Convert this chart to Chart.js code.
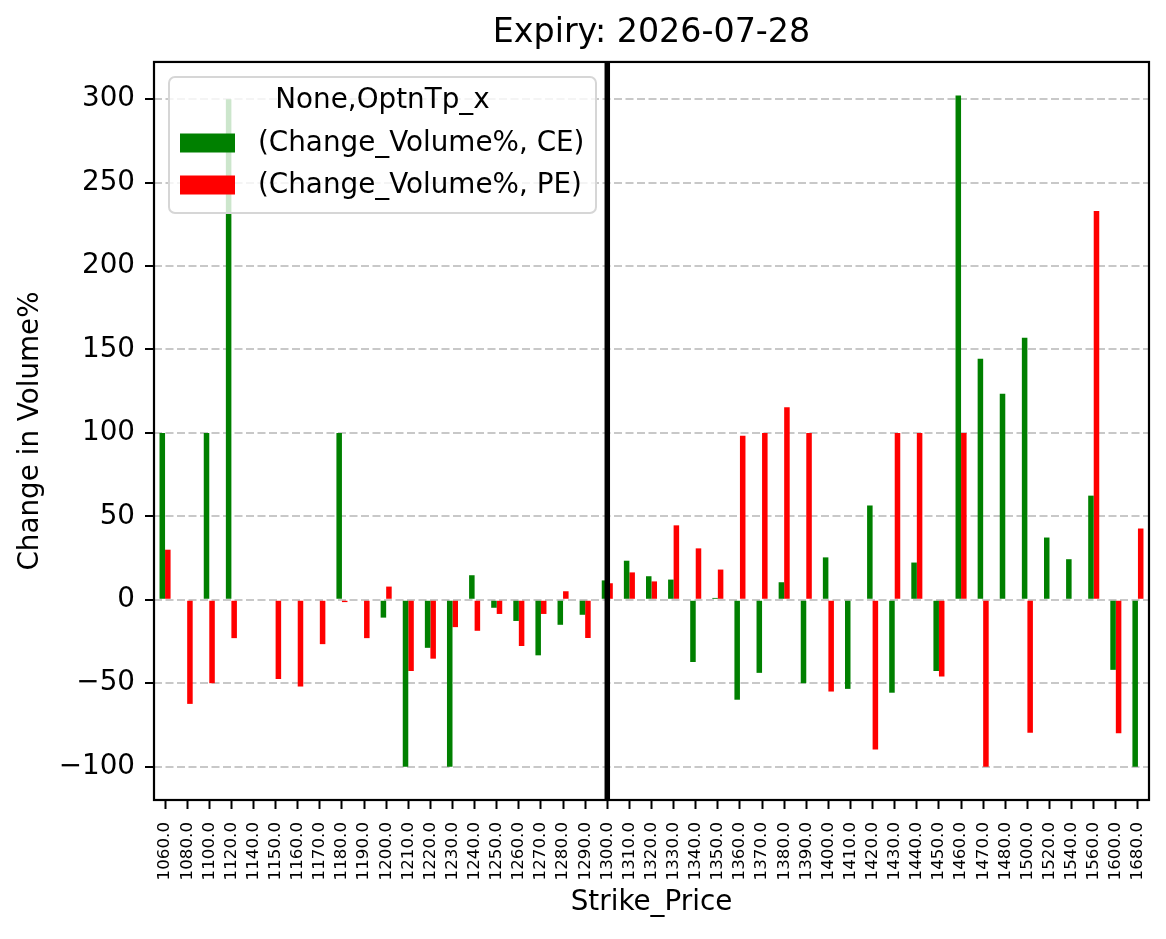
<!DOCTYPE html>
<html>
<head>
<meta charset="utf-8">
<script src="https://cdn.jsdelivr.net/npm/chart.js@4.4.1/dist/chart.umd.min.js"></script>
<style>
  html, body { margin: 0; padding: 0; background: #fff; }
  #wrap { width: 1166px; height: 939px; }
</style>
</head>
<body>
<div id="wrap"><canvas id="volChart" width="1166" height="939"></canvas></div>
<script>
const strikes = ['1060.0','1080.0','1100.0','1120.0','1140.0','1150.0','1160.0','1170.0','1180.0','1190.0',
                 '1200.0','1210.0','1220.0','1230.0','1240.0','1250.0','1260.0','1270.0','1280.0','1290.0',
                 '1300.0','1310.0','1320.0','1330.0','1340.0','1350.0','1360.0','1370.0','1380.0','1390.0',
                 '1400.0','1410.0','1420.0','1430.0','1440.0','1450.0','1460.0','1470.0','1480.0','1500.0',
                 '1520.0','1540.0','1560.0','1600.0','1680.0'];

const ceChange = [100, null, 100, 300, null, null, null, null, 100, null,
                  -10.7, -100, -28.8, -100, 14.7, -4.8, -12.7, -33.3, -15, -9,
                  11.6, 23.4, 14.1, 12.1, -37.3, 1.1, -59.9, -43.8, 10.5, -50,
                  25.4, -53.4, 56.5, -55.7, 22.3, -42.7, 302.2, 144.4, 123.5, 157,
                  37.3, 24.3, 62.4, -42, -100];

const peChange = [30, -62.4, -50, -23, null, -47.5, -52, -26.6, -1.4, -23,
                  7.9, -42.7, -35.3, -16.4, -18.6, -8.5, -27.7, -8.5, 5.1, -22.9,
                  9.9, 16.4, 11, 44.6, 30.8, 18.1, 98.3, 100, 115.3, 100,
                  -55, null, -89.8, 100, 100, -46, 100, -100, null, -79.7,
                  null, null, 233, -80, 42.7];

const yTicks = [-100, -50, 0, 50, 100, 150, 200, 250, 300];
const seriesLabels = ['(Change_Volume%, CE)', '(Change_Volume%, PE)'];
const legendTitle = 'None,OptnTp_x';
const spotStrike = '1300.0';

const FONT = 'DejaVu Sans';

// vertical spot line, axes frame and matplotlib style legend
const overlay = {
    id: 'overlay',
    afterDraw(chart) {
        const ctx = chart.ctx;
        const a = chart.chartArea;
        const xs = chart.scales.x;

        // spot line
        const sx = xs.getPixelForValue(strikes.indexOf(spotStrike));
        ctx.save();
        ctx.strokeStyle = '#000';
        ctx.lineWidth = 5.5;
        ctx.beginPath();
        ctx.moveTo(sx, a.top);
        ctx.lineTo(sx, a.bottom);
        ctx.stroke();

        // frame
        ctx.lineWidth = 2.2;
        ctx.strokeRect(a.left, a.top, a.right - a.left, a.bottom - a.top);

        // legend
        const lx = 169, ly = 77, lw = 427, lh = 136, r = 6;
        ctx.beginPath();
        ctx.moveTo(lx + r, ly);
        ctx.arcTo(lx + lw, ly, lx + lw, ly + lh, r);
        ctx.arcTo(lx + lw, ly + lh, lx, ly + lh, r);
        ctx.arcTo(lx, ly + lh, lx, ly, r);
        ctx.arcTo(lx, ly, lx + lw, ly, r);
        ctx.closePath();
        ctx.fillStyle = 'rgba(255,255,255,0.8)';
        ctx.fill();
        ctx.strokeStyle = '#d6d6d6';
        ctx.lineWidth = 2;
        ctx.stroke();

        ctx.font = '27.8px "' + FONT + '"';
        ctx.fillStyle = '#000';
        ctx.textBaseline = 'middle';
        ctx.textAlign = 'center';
        ctx.fillText(legendTitle, 382.5, 101);

        ctx.textAlign = 'left';
        chart.data.datasets.forEach((ds, i) => {
            const cy = 143 + i * 42;
            ctx.fillStyle = ds.backgroundColor;
            ctx.fillRect(180, cy - 9.5, 55, 19);
            ctx.fillStyle = '#000';
            ctx.fillText(ds.label, 258, cy + 1);
        });
        ctx.restore();
    }
};

const ctx = document.getElementById('volChart').getContext('2d');
const volChart = new Chart(ctx, {
    type: 'bar',
    data: {
        labels: strikes,
        datasets: [
            {
                label: seriesLabels[0],
                data: ceChange,
                backgroundColor: '#008000',
                categoryPercentage: 0.5,
                barPercentage: 1.0,
            },
            {
                label: seriesLabels[1],
                data: peChange,
                backgroundColor: '#ff0000',
                categoryPercentage: 0.5,
                barPercentage: 1.0,
            }
        ]
    },
    options: {
        responsive: false,
        devicePixelRatio: 1,
        animation: false,
        events: [],
        layout: {
            padding: { left: 0, right: 17, top: 0, bottom: 0 }
        },
        plugins: {
            legend: { display: false },
            tooltip: { enabled: false },
            title: {
                display: true,
                fullSize: false,
                text: 'Expiry: 2026-07-28',
                color: '#000',
                font: { family: FONT, size: 33.3, weight: 'normal', lineHeight: 1.2 },
                padding: { top: 13, bottom: 9 }
            }
        },
        scales: {
            x: {
                offset: true,
                grid: {
                    display: true,
                    offset: false,
                    drawOnChartArea: false,
                    drawTicks: true,
                    tickLength: 9,
                    tickColor: '#000',
                    tickWidth: 2
                },
                border: { display: false },
                ticks: {
                    autoSkip: false,
                    minRotation: 90,
                    maxRotation: 90,
                    padding: 13,
                    color: '#000',
                    font: { family: FONT, size: 16.7 }
                },
                title: {
                    display: true,
                    text: 'Strike_Price',
                    color: '#000',
                    font: { family: FONT, size: 27.8, lineHeight: 1.2 },
                    padding: { top: 0, bottom: 20 }
                },
                afterFit(scale) {
                    scale.height = 139;
                    scale.paddingLeft = 0;
                    scale.paddingRight = 0;
                }
            },
            y: {
                z: 1,
                min: -120,
                max: 322.3,
                grid: {
                    color: 'rgba(176,176,176,0.7)',
                    lineWidth: 2,
                    drawTicks: true,
                    tickLength: 9,
                    tickColor: '#000',
                    tickWidth: 2,
                    tickBorderDash: []
                },
                border: { display: false, dash: [8, 3.5] },
                ticks: {
                    padding: 10,
                    color: '#000',
                    font: { family: FONT, size: 27.8 },
                    callback: function(value) {
                        return value < 0 ? '\u2212' + Math.abs(value) : String(value);
                    }
                },
                afterBuildTicks(scale) {
                    scale.ticks = yTicks.map(v => ({ value: v }));
                },
                title: {
                    display: true,
                    text: 'Change in Volume%',
                    color: '#000',
                    font: { family: FONT, size: 27.8, lineHeight: 1.2 },
                    padding: { top: 14, bottom: 0 }
                },
                afterFit(scale) { scale.width = 154; }
            }
        }
    },
    plugins: [overlay]
});
</script>
</body>
</html>
